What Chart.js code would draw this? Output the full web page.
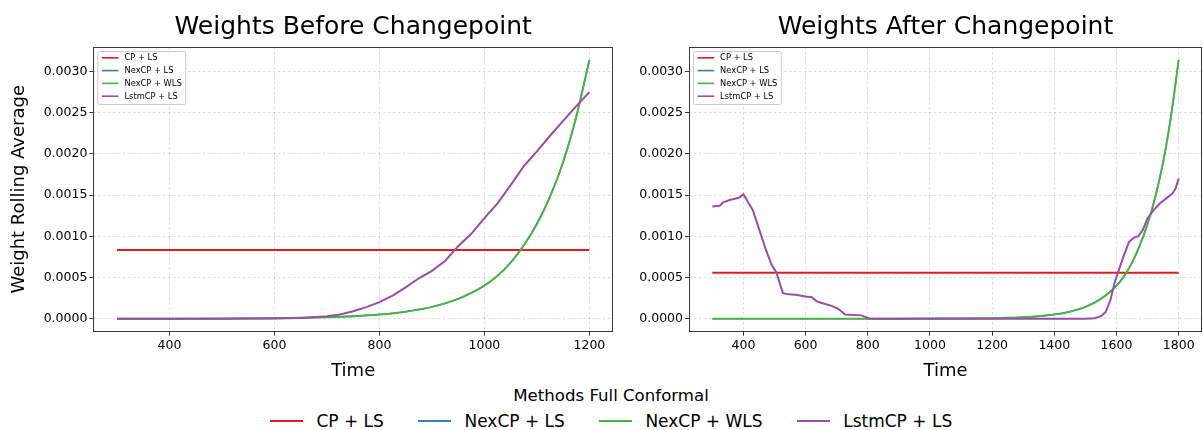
<!DOCTYPE html>
<html><head><meta charset="utf-8">
<script src="https://cdn.jsdelivr.net/npm/chart.js@4.4.1/dist/chart.umd.min.js"></script>
<style>
html,body{margin:0;padding:0;background:#fff;}
#wrap{position:relative;width:1203px;height:430px;overflow:hidden;font-family:"DejaVu Sans",sans-serif;color:#000;}
#c1{position:absolute;left:0;top:0;}
#c2{position:absolute;left:620px;top:0;}
#legTitle{position:absolute;left:0;width:1222px;top:386px;text-align:center;font-size:16.6px;line-height:20px;}
#legRow{position:absolute;left:0;width:1222px;top:410px;display:flex;justify-content:center;align-items:center;font-size:17px;line-height:22px;}
.item{display:flex;align-items:center;margin:0 17px;}
.sw{width:33px;height:2px;margin-right:13.6px;}
</style></head>
<body>
<div id="wrap">
<canvas id="c1" width="620" height="385"></canvas>
<canvas id="c2" width="583" height="385"></canvas>
<div id="legTitle">Methods Full Conformal</div>
<div id="legRow"></div>
</div>
<script>
// ---------- data ----------
const methodNames = ["CP + LS", "NexCP + LS", "NexCP + WLS", "LstmCP + LS"];
const methodColors = ["#e41a1c", "#377eb8", "#4daf4a", "#984ea3"];
const panelTitles = ["Weights Before Changepoint", "Weights After Changepoint"];
const yTickValues = [0, 0.0005, 0.001, 0.0015, 0.002, 0.0025, 0.003];
const xTicksBefore = [400, 600, 800, 1000, 1200];
const xTicksAfter = [400, 600, 800, 1000, 1200, 1400, 1600, 1800];

// Before changepoint
const beforeCpT = [300, 1200];
const beforeCpW = [0.000833, 0.000833];
const beforeNexT = [300,400,500,600,650,700,750,800,850,900,950,1000,1025,1050,1075,1100,1125,1150,1175,1200];
const beforeNexLsW = [0,0,0.000001,0.000006,0.000011,0.000018,0.00003,0.00005,0.000085,0.000143,0.00024,0.0004,0.00052,0.00068,0.00089,0.00115,0.00148,0.0019,0.00245,0.00314];
const beforeNexWlsW = [0,0,0.000001,0.000006,0.000011,0.000018,0.00003,0.00005,0.000085,0.000143,0.00024,0.0004,0.00052,0.00068,0.00089,0.00115,0.00148,0.0019,0.00245,0.00314];
const beforeLstmT = [300,400,500,600,650,700,725,750,775,800,825,850,875,900,925,950,975,1000,1025,1050,1075,1100,1125,1150,1175,1200];
const beforeLstmW = [0,0,0,0.000002,0.000008,0.00003,0.00005,0.00009,0.00014,0.0002,0.00028,0.00038,0.00049,0.00058,0.0007,0.00088,0.00103,0.00122,0.0014,0.00162,0.00185,0.00203,0.00222,0.0024,0.00258,0.00275];

// After changepoint
const afterCpT = [300, 1800];
const afterCpW = [0.000556, 0.000556];
const afterNexT = [300,900,1000,1100,1200,1250,1300,1350,1400,1450,1500,1550,1600,1625,1650,1675,1700,1725,1750,1775,1800];
const afterNexLsW = [0,0,0.000001,0.000002,0.000006,0.000011,0.000018,0.00003,0.00005,0.000085,0.000143,0.00024,0.0004,0.00052,0.00068,0.00089,0.00115,0.00148,0.0019,0.00245,0.00314];
const afterNexWlsW = [0,0,0.000001,0.000002,0.000006,0.000011,0.000018,0.00003,0.00005,0.000085,0.000143,0.00024,0.0004,0.00052,0.00068,0.00089,0.00115,0.00148,0.0019,0.00245,0.00314];
const afterLstmT = [300,324,334,355,366,387,400,408,414,430,451,472,491,506,527,545,568,600,620,636,652,684,705,727,779,800,806,1500,1530,1550,1565,1580,1595,1610,1625,1640,1655,1670,1685,1700,1720,1740,1760,1780,1790,1800];
const afterLstmW = [0.00136,0.00137,0.00141,0.00144,0.00145,0.00147,0.00151,0.00146,0.00142,0.00132,0.00108,0.00084,0.00065,0.00056,0.00031,0.000295,0.00029,0.00027,0.00026,0.00021,0.00019,0.000155,0.00012,0.00005,0.00004,0.00001,0,0,0.000005,0.00003,0.00008,0.00022,0.00045,0.00062,0.00078,0.00093,0.00098,0.001,0.00108,0.00122,0.00132,0.0014,0.00146,0.00152,0.00158,0.0017];

// ---------- helpers ----------
const FONT = "'DejaVu Sans', sans-serif";
const pts = (T, W) => T.map((t, i) => ({x: t, y: W[i]}));

function ds(i, T, W, smooth) {
  return {
    label: methodNames[i], data: pts(T, W),
    borderColor: methodColors[i], backgroundColor: methodColors[i],
    borderWidth: i === 1 ? 1.4 : 2, pointRadius: 0, fill: false,
    tension: 0, cubicInterpolationMode: smooth ? 'monotone' : 'default',
    order: 3 - i
  };
}

const framePlugin = {
  id: 'frameLegend',
  afterDatasetsDraw(chart) {
    const {ctx, chartArea: a} = chart;
    ctx.save();
    ctx.strokeStyle = '#3a3a3a'; ctx.lineWidth = 1;
    const l = Math.round(a.left) + 0.5, t = Math.round(a.top) + 0.5;
    const r = Math.round(a.right) - 0.5, b = Math.round(a.bottom) - 0.5;
    ctx.strokeRect(l, t, r - l, b - t);
    ctx.font = '8.3px ' + FONT;
    let maxW = 0;
    methodNames.forEach(n => { maxW = Math.max(maxW, ctx.measureText(n).width); });
    const bx = a.left + 4.5, by = a.top + 4.5;
    const bw = 4 + 16.6 + 6 + maxW + 4, bh = 53;
    ctx.beginPath();
    if (ctx.roundRect) ctx.roundRect(bx, by, bw, bh, 2); else ctx.rect(bx, by, bw, bh);
    ctx.fillStyle = 'rgba(255,255,255,0.85)'; ctx.fill();
    ctx.strokeStyle = '#cccccc'; ctx.lineWidth = 1; ctx.stroke();
    ctx.textBaseline = 'middle'; ctx.textAlign = 'left';
    methodNames.forEach((n, i) => {
      const yy = by + 6.3 + i * 12.8;
      ctx.strokeStyle = methodColors[i]; ctx.lineWidth = 1.6;
      ctx.beginPath(); ctx.moveTo(bx + 4, yy); ctx.lineTo(bx + 4 + 16.6, yy); ctx.stroke();
      ctx.fillStyle = '#000';
      ctx.fillText(n, bx + 4 + 16.6 + 6, yy + 0.5);
    });
    ctx.restore();
  }
};

function makeChart(id, title, datasets, xMin, xMax, xTicks, yAxisWidth, padRight, showYTitle) {
  const canvas = document.getElementById(id);
  return new Chart(canvas, {
    type: 'line',
    data: {datasets},
    plugins: [framePlugin],
    options: {
      responsive: false, animation: false, devicePixelRatio: 1,
      layout: {padding: {left: 0, right: padRight, top: 0, bottom: 0}},
      plugins: {
        legend: {display: false}, tooltip: {enabled: false},
        title: {display: true, text: title, color: '#000', fullSize: false,
                font: {family: FONT, size: 25, weight: 'normal', lineHeight: 1.2},
                padding: {top: 12, bottom: 5}}
      },
      scales: {
        x: {
          type: 'linear', min: xMin, max: xMax,
          afterBuildTicks: s => { s.ticks = xTicks.map(v => ({value: v})); },
          afterFit: s => { s.height = 53.4; },
          ticks: {autoSkip: false, maxRotation: 0, color: '#000', padding: 3,
                  font: {family: FONT, size: 12.5}, callback: v => String(v)},
          grid: {color: 'rgba(160,160,160,0.45)', lineWidth: 0.8, tickLength: 4,
                 tickColor: '#333', tickWidth: 1, tickBorderDash: []},
          border: {display: false, dash: [2.5, 2.5]},
          title: {display: true, text: 'Time', color: '#000',
                  font: {family: FONT, size: 18, lineHeight: 1.2}, padding: {top: 0, bottom: 3.2}}
        },
        y: {
          type: 'linear', min: -0.000157, max: 0.003297,
          afterBuildTicks: s => { s.ticks = yTickValues.map(v => ({value: v})); },
          afterFit: s => { s.width = yAxisWidth; },
          ticks: {autoSkip: false, color: '#000', padding: 2,
                  font: {family: FONT, size: 12.5}, callback: v => Number(v).toFixed(4)},
          grid: {color: 'rgba(160,160,160,0.45)', lineWidth: 0.8, tickLength: 4,
                 tickColor: '#333', tickWidth: 1, tickBorderDash: []},
          border: {display: false, dash: [2.5, 2.5]},
          title: {display: showYTitle, text: 'Weight Rolling Average', color: '#000',
                  font: {family: FONT, size: 18, lineHeight: 1.2}, padding: {top: 8.2, bottom: 0}}
        }
      }
    }
  });
}

makeChart('c1', panelTitles[0], [
  ds(0, beforeCpT, beforeCpW, false),
  ds(1, beforeNexT, beforeNexLsW, true),
  ds(2, beforeNexT, beforeNexWlsW, true),
  ds(3, beforeLstmT, beforeLstmW, false)
], 255, 1245, xTicksBefore, 93.4, 7, true);

makeChart('c2', panelTitles[1], [
  ds(0, afterCpT, afterCpW, false),
  ds(1, afterNexT, afterNexLsW, true),
  ds(2, afterNexT, afterNexWlsW, true),
  ds(3, afterLstmT, afterLstmW, false)
], 225, 1875, xTicksAfter, 69, 1, false);

// bottom legend
const row = document.getElementById('legRow');
methodNames.forEach((n, i) => {
  const it = document.createElement('div'); it.className = 'item';
  const sw = document.createElement('span'); sw.className = 'sw'; sw.style.background = methodColors[i];
  const tx = document.createElement('span'); tx.textContent = n;
  it.appendChild(sw); it.appendChild(tx); row.appendChild(it);
});
</script>
</body></html>
